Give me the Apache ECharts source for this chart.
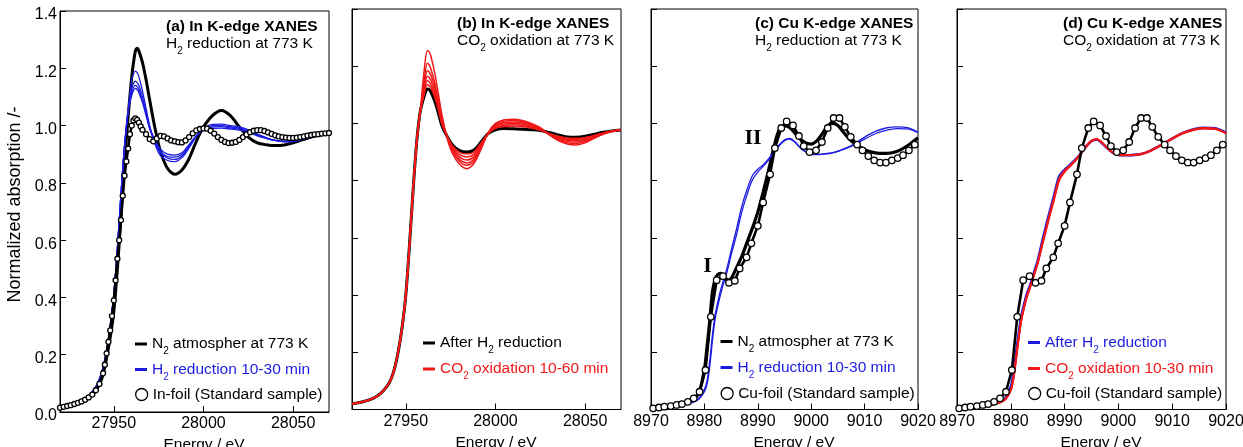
<!DOCTYPE html>
<html>
<head>
<meta charset="utf-8">
<title>XANES</title>
<script src="https://cdn.jsdelivr.net/npm/echarts@6.0.0/dist/echarts.min.js"></script>
<style>
  html, body { margin: 0; padding: 0; background: #fff; }
  #chart { width: 1243px; height: 447px; }
</style>
</head>
<body>
<div id="chart"></div>
<script>
// ---- In K-edge (panels a, b) ----
const IN_E = [27920, 27926, 27932, 27936, 27940, 27942, 27944, 27946, 27948, 27950, 27952, 27954, 27956, 27958,
  27960, 27962, 27963, 27964, 27966, 27968, 27970, 27973, 27976, 27980, 27984, 27988, 27992, 27996, 28000,
  28005, 28010, 28015, 28020, 28025, 28030, 28035, 28040, 28045, 28050, 28055, 28060, 28065, 28070]

const IN_N2 = [0.018, 0.025, 0.036, 0.05, 0.075, 0.097, 0.13, 0.19, 0.26, 0.35, 0.50, 0.68, 0.87, 1.03,
  1.17, 1.26, 1.27, 1.26, 1.22, 1.16, 1.09, 0.99, 0.91, 0.85, 0.83, 0.845, 0.885, 0.945, 0.995,
  1.035, 1.053, 1.035, 0.995, 0.96, 0.94, 0.933, 0.93, 0.932, 0.94, 0.95, 0.96, 0.967, 0.972]

const IN_H2_A = [0.02, 0.028, 0.041, 0.058, 0.088, 0.115, 0.155, 0.215, 0.30, 0.41, 0.57, 0.76, 0.93, 1.05,
  1.16, 1.19, 1.185, 1.17, 1.12, 1.06, 1.0, 0.935, 0.895, 0.878, 0.874, 0.888, 0.922, 0.962, 0.99,
  1.004, 1.005, 1.0, 0.995, 0.985, 0.97, 0.958, 0.948, 0.943, 0.944, 0.952, 0.96, 0.967, 0.973]
const IN_H2_B = [0.02, 0.028, 0.041, 0.058, 0.088, 0.115, 0.155, 0.215, 0.30, 0.41, 0.57, 0.76, 0.93, 1.05,
  1.13, 1.155, 1.15, 1.14, 1.10, 1.048, 0.995, 0.94, 0.905, 0.886, 0.882, 0.894, 0.926, 0.963, 0.988,
  1.0, 1.0, 0.996, 0.991, 0.981, 0.968, 0.957, 0.948, 0.944, 0.945, 0.952, 0.96, 0.967, 0.973]
const IN_H2_C = [0.02, 0.028, 0.041, 0.058, 0.088, 0.115, 0.155, 0.215, 0.30, 0.41, 0.57, 0.76, 0.93, 1.05,
  1.115, 1.14, 1.136, 1.125, 1.087, 1.04, 0.99, 0.945, 0.91, 0.892, 0.89, 0.9, 0.93, 0.964, 0.986,
  0.995, 0.996, 0.992, 0.987, 0.978, 0.966, 0.956, 0.948, 0.945, 0.946, 0.953, 0.961, 0.967, 0.973]
const IN_H2_D = [0.02, 0.028, 0.041, 0.058, 0.088, 0.115, 0.155, 0.215, 0.30, 0.41, 0.57, 0.76, 0.93, 1.05,
  1.105, 1.13, 1.126, 1.115, 1.08, 1.035, 0.99, 0.95, 0.918, 0.9, 0.897, 0.905, 0.934, 0.965, 0.984,
  0.99, 0.991, 0.988, 0.984, 0.976, 0.964, 0.955, 0.948, 0.946, 0.947, 0.953, 0.961, 0.967, 0.973]

const IN_AFTER_H2 = [0.02, 0.027, 0.04, 0.056, 0.085, 0.11, 0.15, 0.21, 0.29, 0.40, 0.57, 0.76, 0.93, 1.04,
  1.09, 1.12, 1.118, 1.11, 1.08, 1.04, 0.995, 0.955, 0.925, 0.905, 0.9, 0.907, 0.935, 0.965, 0.978,
  0.982, 0.981, 0.98, 0.978, 0.975, 0.968, 0.96, 0.953, 0.952, 0.955, 0.962, 0.969, 0.974, 0.977]

const IN_CO2_1 = [0.02, 0.027, 0.04, 0.056, 0.085, 0.11, 0.15, 0.21, 0.29, 0.40, 0.57, 0.76, 0.93, 1.04,
  1.17, 1.255, 1.25, 1.235, 1.18, 1.11, 1.035, 0.95, 0.895, 0.857, 0.842, 0.86, 0.91, 0.968, 1.0,
  1.013, 1.015, 1.01, 1.0, 0.985, 0.96, 0.94, 0.928, 0.925, 0.932, 0.948, 0.962, 0.972, 0.978]
const IN_CO2_2 = [0.02, 0.027, 0.04, 0.056, 0.085, 0.11, 0.15, 0.21, 0.29, 0.40, 0.57, 0.76, 0.93, 1.04,
  1.14, 1.21, 1.205, 1.19, 1.145, 1.085, 1.02, 0.952, 0.903, 0.867, 0.854, 0.869, 0.915, 0.967, 0.996,
  1.008, 1.01, 1.006, 0.997, 0.983, 0.961, 0.943, 0.932, 0.93, 0.936, 0.95, 0.963, 0.972, 0.978]
const IN_CO2_3 = [0.02, 0.027, 0.04, 0.056, 0.085, 0.11, 0.15, 0.21, 0.29, 0.40, 0.57, 0.76, 0.93, 1.04,
  1.12, 1.185, 1.18, 1.168, 1.13, 1.075, 1.015, 0.953, 0.908, 0.874, 0.862, 0.876, 0.92, 0.966, 0.993,
  1.003, 1.005, 1.002, 0.994, 0.981, 0.962, 0.946, 0.937, 0.935, 0.94, 0.952, 0.964, 0.973, 0.978]
const IN_CO2_4 = [0.02, 0.027, 0.04, 0.056, 0.085, 0.11, 0.15, 0.21, 0.29, 0.40, 0.57, 0.76, 0.93, 1.04,
  1.11, 1.165, 1.16, 1.15, 1.115, 1.065, 1.01, 0.954, 0.913, 0.882, 0.872, 0.884, 0.925, 0.965, 0.99,
  0.998, 1.0, 0.998, 0.99, 0.979, 0.963, 0.949, 0.941, 0.94, 0.944, 0.954, 0.965, 0.973, 0.978]
const IN_CO2_5 = [0.02, 0.027, 0.04, 0.056, 0.085, 0.11, 0.15, 0.21, 0.29, 0.40, 0.57, 0.76, 0.93, 1.04,
  1.10, 1.15, 1.145, 1.136, 1.105, 1.058, 1.005, 0.955, 0.918, 0.891, 0.883, 0.892, 0.929, 0.965, 0.986,
  0.993, 0.995, 0.993, 0.987, 0.977, 0.964, 0.952, 0.945, 0.944, 0.948, 0.956, 0.966, 0.973, 0.978]
const IN_CO2_6 = [0.02, 0.027, 0.04, 0.056, 0.085, 0.11, 0.15, 0.21, 0.29, 0.40, 0.57, 0.76, 0.93, 1.04,
  1.095, 1.135, 1.132, 1.124, 1.095, 1.052, 1.0, 0.956, 0.922, 0.899, 0.893, 0.9, 0.932, 0.965, 0.983,
  0.989, 0.99, 0.988, 0.984, 0.976, 0.965, 0.955, 0.949, 0.948, 0.951, 0.958, 0.967, 0.974, 0.978]

const IN_FOIL_E = [27920, 27922, 27924, 27926, 27928, 27930, 27932, 27934, 27936, 27938, 27940, 27942, 27944,
  27945, 27946, 27947, 27948, 27949, 27950, 27951, 27952, 27953, 27954, 27955, 27956, 27957, 27958, 27959,
  27960, 27961, 27962, 27963, 27964, 27965, 27966,
  27968, 27970, 27972, 27974, 27976, 27978, 27980, 27982, 27984, 27986, 27988, 27990, 27992, 27994, 27996,
  27998, 28000, 28002, 28004, 28006, 28008, 28010, 28012, 28014, 28016, 28018, 28020, 28022, 28024, 28026,
  28028, 28030, 28032, 28034, 28036, 28038, 28040, 28042, 28044, 28046, 28048, 28050, 28052, 28054, 28056,
  28058, 28060, 28062, 28064, 28066, 28068, 28070]
const IN_FOIL = [0.015, 0.018, 0.021, 0.024, 0.028, 0.032, 0.037, 0.043, 0.051, 0.061, 0.076, 0.098, 0.135,
  0.165, 0.205, 0.245, 0.285, 0.335, 0.39, 0.46, 0.535, 0.6, 0.67, 0.755, 0.825, 0.875, 0.92, 0.97,
  1.0, 1.018, 1.025, 1.02, 1.01, 0.997, 0.985,
  0.97, 0.953, 0.945, 0.955, 0.964, 0.962, 0.955, 0.948, 0.945, 0.942, 0.941, 0.948, 0.96, 0.973, 0.983,
  0.988, 0.99, 0.989, 0.982, 0.972, 0.96, 0.95, 0.943, 0.939, 0.94, 0.943, 0.95, 0.96, 0.969, 0.977,
  0.982, 0.984, 0.984, 0.981, 0.976, 0.971, 0.966, 0.962, 0.96, 0.958, 0.957, 0.957, 0.958, 0.96, 0.962,
  0.965, 0.967, 0.969, 0.97, 0.972, 0.973, 0.974]

// ---- Cu K-edge (panels c, d) ----
const CU_E = [8970, 8972, 8974, 8976, 8978, 8979, 8980, 8980.5, 8981, 8981.5, 8982, 8982.5, 8983, 8983.5,
  8984, 8984.5, 8985, 8986, 8987, 8988, 8989, 8990, 8991, 8992, 8993, 8994, 8995, 8996, 8997, 8998,
  8999, 9000, 9001, 9002, 9003, 9004, 9005, 9006, 9007, 9008, 9010, 9012, 9014, 9016, 9018, 9020]

const CU_N2 = [0.004, 0.008, 0.012, 0.02, 0.036, 0.06, 0.14, 0.22, 0.31, 0.41, 0.455, 0.472, 0.476, 0.47,
  0.458, 0.452, 0.458, 0.495, 0.535, 0.585, 0.635, 0.69, 0.76, 0.835, 0.915, 0.978, 0.992, 0.985, 0.965, 0.945,
  0.932, 0.928, 0.938, 0.962, 0.99, 1.0, 0.993, 0.97, 0.948, 0.932, 0.908, 0.897, 0.895, 0.902, 0.922, 0.95]

const CU_H2_A = [0.004, 0.007, 0.011, 0.017, 0.028, 0.04, 0.07, 0.1, 0.17, 0.26, 0.33, 0.375, 0.415, 0.448,
  0.478, 0.515, 0.555, 0.63, 0.71, 0.77, 0.818, 0.84, 0.855, 0.876, 0.9, 0.925, 0.943, 0.948, 0.935, 0.915,
  0.9, 0.893, 0.891, 0.892, 0.894, 0.897, 0.902, 0.91, 0.918, 0.928, 0.952, 0.972, 0.984, 0.988, 0.985, 0.97]
const CU_H2_B = [0.004, 0.007, 0.011, 0.016, 0.026, 0.037, 0.062, 0.09, 0.15, 0.24, 0.315, 0.36, 0.4, 0.435,
  0.465, 0.5, 0.54, 0.61, 0.69, 0.752, 0.803, 0.83, 0.85, 0.872, 0.897, 0.922, 0.94, 0.945, 0.933, 0.914,
  0.9, 0.894, 0.892, 0.893, 0.895, 0.898, 0.903, 0.909, 0.916, 0.925, 0.945, 0.964, 0.976, 0.982, 0.981, 0.968]

const CU_AFTER_H2 = [0.004, 0.007, 0.011, 0.016, 0.027, 0.04, 0.08, 0.13, 0.2, 0.27, 0.33, 0.37, 0.405, 0.43,
  0.46, 0.49, 0.52, 0.6, 0.675, 0.745, 0.815, 0.838, 0.855, 0.873, 0.895, 0.92, 0.938, 0.943, 0.93, 0.912,
  0.897, 0.89, 0.889, 0.889, 0.89, 0.892, 0.897, 0.905, 0.915, 0.925, 0.947, 0.967, 0.98, 0.985, 0.983, 0.968]
const CU_CO2_A = [0.004, 0.006, 0.01, 0.015, 0.025, 0.036, 0.07, 0.115, 0.185, 0.26, 0.32, 0.362, 0.398, 0.425,
  0.455, 0.485, 0.515, 0.592, 0.668, 0.738, 0.808, 0.835, 0.853, 0.872, 0.895, 0.92, 0.94, 0.946, 0.933, 0.914,
  0.898, 0.891, 0.89, 0.89, 0.891, 0.893, 0.898, 0.906, 0.916, 0.926, 0.948, 0.967, 0.979, 0.984, 0.982, 0.967]
const CU_CO2_B = [0.004, 0.006, 0.01, 0.015, 0.025, 0.036, 0.068, 0.11, 0.18, 0.255, 0.318, 0.36, 0.396, 0.423,
  0.452, 0.482, 0.512, 0.588, 0.664, 0.734, 0.804, 0.832, 0.851, 0.871, 0.894, 0.919, 0.939, 0.945, 0.932, 0.913,
  0.898, 0.891, 0.889, 0.889, 0.89, 0.892, 0.897, 0.905, 0.915, 0.925, 0.947, 0.966, 0.978, 0.983, 0.981, 0.966]
const CU_CO2_C = [0.004, 0.006, 0.01, 0.014, 0.024, 0.035, 0.066, 0.105, 0.175, 0.25, 0.315, 0.357, 0.393, 0.42,
  0.45, 0.479, 0.509, 0.585, 0.66, 0.73, 0.8, 0.83, 0.85, 0.87, 0.893, 0.918, 0.938, 0.944, 0.931, 0.912,
  0.897, 0.89, 0.888, 0.888, 0.889, 0.891, 0.896, 0.904, 0.914, 0.924, 0.946, 0.965, 0.977, 0.982, 0.98, 0.965]

const CU_FOIL_E = [8970.4, 8971.5, 8972.5, 8973.7, 8974.8, 8975.8, 8976.9, 8978.0, 8979.1, 8980.2, 8981.2,
  8982.3, 8983.5, 8984.6, 8985.7, 8986.6, 8987.9, 8988.8, 8990.0, 8991.0, 8992.3, 8993.2, 8994.4, 8995.4,
  8996.6, 8997.7, 8998.6, 8999.7, 9000.9, 9002.0, 9003.1, 9004.2, 9005.3, 9006.3, 9007.4, 9008.6, 9009.6,
  9010.7, 9011.8, 9012.9, 9014.0, 9015.1, 9016.2, 9017.2, 9018.3, 9019.4]
const CU_FOIL = [0.004, 0.007, 0.01, 0.012, 0.016, 0.019, 0.027, 0.039, 0.062, 0.138, 0.324,
  0.452, 0.466, 0.443, 0.45, 0.493, 0.532, 0.581, 0.642, 0.724, 0.822, 0.914, 0.984, 1.007,
  0.993, 0.956, 0.921, 0.9, 0.906, 0.935, 0.984, 1.019, 1.019, 0.988, 0.953, 0.926, 0.906,
  0.886, 0.871, 0.863, 0.863, 0.871, 0.879, 0.889, 0.906, 0.926]

const IN_TICKS = [27950, 28000, 28050]
const CU_TICKS = [8970, 8980, 8990, 9000, 9010, 9020]

const FONT = '"Liberation Sans", Arial, Helvetica, sans-serif'
const BLUE = '#1c1ce0'
const RED = '#f01818'

const RICH = {
  k: { color: '#000', fontSize: 15.5, fontFamily: FONT, lineHeight: 25 },
  ks: { color: '#000', fontSize: 10, fontFamily: FONT, lineHeight: 10, verticalAlign: 'top', padding: [15, 0, 0, 0] },
  b: { color: BLUE, fontSize: 15.5, fontFamily: FONT, lineHeight: 25 },
  bs: { color: BLUE, fontSize: 10, fontFamily: FONT, lineHeight: 10, verticalAlign: 'top', padding: [15, 0, 0, 0] },
  r: { color: RED, fontSize: 15.5, fontFamily: FONT, lineHeight: 25 },
  rs: { color: RED, fontSize: 10, fontFamily: FONT, lineHeight: 10, verticalAlign: 'top', padding: [15, 0, 0, 0] }
}

const LABELS = {
  aN2: '{k|N}{ks|2}{k| atmospher at 773 K}',
  aH2: '{b|H}{bs|2}{b| reduction 10-30 min}',
  aFoil: '{k|In-foil (Standard sample)}',
  bAfter: '{k|After H}{ks|2}{k| reduction}',
  bCO2: '{r|CO}{rs|2}{r| oxidation 10-60 min}',
  cN2: '{k|N}{ks|2}{k| atmospher at 773 K}',
  cH2: '{b|H}{bs|2}{b| reduction 10-30 min}',
  cFoil: '{k|Cu-foil (Standard sample)}',
  dAfter: '{b|After H}{bs|2}{b| reduction}',
  dCO2: '{r|CO}{rs|2}{r| oxidation 10-30 min}',
  dFoil: '{k|Cu-foil (Standard sample)}'
}

function pairs (xs, ys) {
  return xs.map((x, i) => [x, ys[i]])
}

function line (name, g, xs, ys, color, width) {
  return {
    name: name,
    type: 'line',
    xAxisIndex: g,
    yAxisIndex: g,
    data: pairs(xs, ys),
    symbol: 'none',
    showSymbol: false,
    smooth: 0.3,
    itemStyle: { color: color },
    lineStyle: { color: color, width: width },
    silent: true
  }
}

function foil (name, g, xs, ys, size) {
  return {
    name: name,
    type: 'line',
    xAxisIndex: g,
    yAxisIndex: g,
    data: pairs(xs, ys),
    symbol: 'circle',
    symbolSize: size,
    showSymbol: true,
    showAllSymbol: true,
    itemStyle: { color: '#fff', borderColor: '#000', borderWidth: 1.3 },
    lineStyle: { color: '#000', width: 2.6 },
    silent: true
  }
}

const GRIDS = [
  { left: 60, width: 269, top: 11, bottom: 35 },
  { left: 352, width: 269, top: 9, bottom: 37.5 },
  { left: 651, width: 267, top: 9, bottom: 37.5 },
  { left: 957, width: 269, top: 9, bottom: 37.5 }
]

function xAxisCfg (g, min, max, ticks) {
  return {
    type: 'value',
    gridIndex: g,
    min: min,
    max: max,
    name: 'Energy / eV',
    nameLocation: 'middle',
    nameGap: 23,
    nameTextStyle: { fontFamily: FONT, fontSize: 15.5, color: '#000', padding: [0, 0, 0, 19] },
    axisLine: { show: true, onZero: false, lineStyle: { color: '#000', width: 1 } },
    axisTick: { show: true, inside: true, length: 6, lineStyle: { color: '#000' }, customValues: ticks },
    axisLabel: { customValues: ticks, margin: 4, fontFamily: FONT, fontSize: 16, color: '#000', formatter: (v) => String(v) },
    splitLine: { show: false }
  }
}

function yAxisCfg (g, showLabels) {
  const ax = {
    type: 'value',
    gridIndex: g,
    min: 0,
    max: 1.4,
    interval: 0.2,
    axisLine: { show: true, onZero: false, lineStyle: { color: '#000', width: 1 } },
    axisTick: { show: true, inside: true, length: 6, lineStyle: { color: '#000' } },
    axisLabel: {
      show: showLabels,
      margin: 3,
      fontFamily: FONT,
      fontSize: 16,
      color: '#000',
      verticalAlign: 'top',
      lineHeight: 8,
      formatter: (v) => v.toFixed(1)
    },
    splitLine: { show: false }
  }
  if (g === 0) {
    ax.name = 'Normalized absorption /-'
    ax.nameLocation = 'middle'
    ax.nameGap = 36
    ax.nameTextStyle = { fontFamily: FONT, fontSize: 18, color: '#000', padding: [0, 0, 0, 14] }
  }
  return ax
}

function titleCfg (left, top, text, sub) {
  return {
    left: left,
    top: top,
    padding: 0,
    itemGap: -4,
    text: text,
    textStyle: { fontFamily: FONT, fontSize: 15.5, fontWeight: 'bold', color: '#000', lineHeight: 18 },
    subtext: sub,
    subtextStyle: { fontFamily: FONT, fontSize: 15.5, color: '#000', rich: RICH }
  }
}

function legendCfg (names, left, top, gap, icon) {
  const lg = {
    data: names,
    left: left,
    top: top,
    orient: 'vertical',
    padding: 0,
    itemGap: gap,
    selectedMode: false,
    formatter: (n) => LABELS[n],
    textStyle: { fontFamily: FONT, fontSize: 15.5, color: '#000', rich: RICH }
  }
  if (icon === 'line') {
    lg.icon = 'rect'
    lg.itemWidth = 12
    lg.itemHeight = 3
    lg.itemStyle = { borderWidth: 0 }
  } else {
    lg.icon = 'circle'
    lg.itemWidth = 12
    lg.itemHeight = 12
    lg.itemStyle = { color: '#fff', borderColor: '#000', borderWidth: 1.3 }
  }
  return lg
}

const cN2 = line('cN2', 2, CU_E, CU_N2, '#000', 3.2)
cN2.markPoint = {
  symbol: 'circle',
  symbolSize: 1,
  silent: true,
  itemStyle: { color: 'rgba(0,0,0,0)' },
  label: {
    show: true,
    position: 'inside',
    fontFamily: '"Liberation Serif", "Times New Roman", serif',
    fontWeight: 'bold',
    fontSize: 22,
    color: '#000',
    formatter: (p) => p.name
  },
  data: [
    { name: 'I', coord: [8980.6, 0.50] },
    { name: 'II', coord: [8989.1, 0.948] }
  ]
}

const option = {
  animation: false,
  backgroundColor: '#fff',
  grid: GRIDS.map((g) => Object.assign({
    show: true,
    borderColor: '#000',
    borderWidth: 1,
    backgroundColor: 'transparent',
    containLabel: false,
    outerBoundsMode: 'none'
  }, g)),
  title: [
    titleCfg(166, 17.5, '(a) In K-edge XANES', '{k|H}{ks|2}{k| reduction at 773 K}'),
    titleCfg(457, 14.5, '(b) In K-edge XANES', '{k|CO}{ks|2}{k| oxidation at 773 K}'),
    titleCfg(755, 14.5, '(c) Cu K-edge XANES', '{k|H}{ks|2}{k| reduction at 773 K}'),
    titleCfg(1063, 14.5, '(d) Cu K-edge XANES', '{k|CO}{ks|2}{k| oxidation at 773 K}')
  ],
  legend: [
    legendCfg(['aN2', 'aH2'], 135, 331.5, 0.5, 'line'),
    legendCfg(['aFoil'], 135, 386.5, 0, 'circle'),
    legendCfg(['bAfter', 'bCO2'], 423, 330.5, 1, 'line'),
    legendCfg(['cN2', 'cH2'], 720.5, 329, 1, 'line'),
    legendCfg(['cFoil'], 720.5, 385.5, 0, 'circle'),
    legendCfg(['dAfter', 'dCO2'], 1028, 330, 1, 'line'),
    legendCfg(['dFoil'], 1028, 385.5, 0, 'circle')
  ],
  xAxis: [
    xAxisCfg(0, 27920, 28070, IN_TICKS),
    xAxisCfg(1, 27920, 28070, IN_TICKS),
    xAxisCfg(2, 8970, 9020, CU_TICKS),
    xAxisCfg(3, 8970, 9020, CU_TICKS)
  ],
  yAxis: [yAxisCfg(0, true), yAxisCfg(1, false), yAxisCfg(2, false), yAxisCfg(3, false)],
  series: [
    // (a)
    line('aN2', 0, IN_E, IN_N2, '#000', 3),
    line('aH2', 0, IN_E, IN_H2_A, BLUE, 1.3),
    line('aH2', 0, IN_E, IN_H2_B, BLUE, 1.3),
    line('aH2', 0, IN_E, IN_H2_C, BLUE, 1.3),
    line('aH2', 0, IN_E, IN_H2_D, BLUE, 1.3),
    foil('aFoil', 0, IN_FOIL_E, IN_FOIL, 5),
    // (b)
    line('bAfter', 1, IN_E, IN_AFTER_H2, '#000', 3),
    line('bCO2', 1, IN_E, IN_CO2_6, RED, 1.5),
    line('bCO2', 1, IN_E, IN_CO2_5, RED, 1.5),
    line('bCO2', 1, IN_E, IN_CO2_4, RED, 1.5),
    line('bCO2', 1, IN_E, IN_CO2_3, RED, 1.5),
    line('bCO2', 1, IN_E, IN_CO2_2, RED, 1.5),
    line('bCO2', 1, IN_E, IN_CO2_1, RED, 1.5),
    // (c)
    cN2,
    line('cH2', 2, CU_E, CU_H2_A, BLUE, 1.3),
    line('cH2', 2, CU_E, CU_H2_B, BLUE, 1.3),
    foil('cFoil', 2, CU_FOIL_E, CU_FOIL, 6.5),
    // (d)
    line('dAfter', 3, CU_E, CU_AFTER_H2, BLUE, 2.6),
    line('dCO2', 3, CU_E, CU_CO2_A, RED, 1.8),
    line('dCO2', 3, CU_E, CU_CO2_B, RED, 1.8),
    line('dCO2', 3, CU_E, CU_CO2_C, RED, 1.8),
    foil('dFoil', 3, CU_FOIL_E, CU_FOIL, 6.5)
  ]
}

const chart = echarts.init(document.getElementById('chart'), null, { renderer: 'canvas' })
chart.setOption(option)
</script>
</body>
</html>
